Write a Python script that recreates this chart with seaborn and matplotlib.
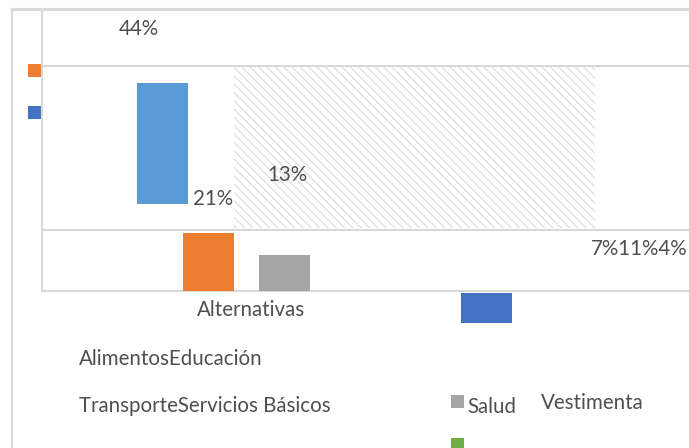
import numpy as np
import pandas as pd
import matplotlib
matplotlib.use("Agg")
import matplotlib.pyplot as plt
from matplotlib.patches import Rectangle
import seaborn as sns

# data
categorias = ["Alimentos", "Educación", "Transporte", "Servicios Básicos", "Salud", "Vestimenta"]
porcentajes = [44, 21, 13, 7, 11, 4]
eje_x = "Alternativas"

# bars that are visible: Alimentos, Educación, Transporte, Salud (drawn downward)
barras = ["Alimentos", "Educación", "Transporte", "Salud"]
signo = [1, 1, 1, -1]

# layout only (pixel centres of the bars, floating bases in % units)
bar_x = [162.5, 208.5, 284.5, 486.5]
bar_base = [31.5, 0.0, 0.0, -0.7]
bar_colors = ["#5B9BD5", "#ED7D31", "#A5A5A5", "#4472C4"]

sns.set_theme(style="white")
plt.rcParams["font.family"] = ["Lato", "DejaVu Sans"]
plt.rcParams["hatch.linewidth"] = 0.9

W, H = 689, 448
PX = 2.75  # pixels per percent point
fig = plt.figure(figsize=(W / 100, H / 100), dpi=100)

# data axes
ax = fig.add_axes([0, 0, 1, 1])
vals = [s * porcentajes[categorias.index(b)] for b, s in zip(barras, signo)]
df = pd.DataFrame({"pos": bar_x, "valor": vals})
sns.barplot(data=df, x="pos", y="valor", native_scale=True, orient="x",
            width=51 / 46, errorbar=None, bottom=bar_base, linewidth=0,
            color="#5B9BD5", ax=ax)
for p, c in zip(ax.patches, bar_colors):
    p.set_facecolor(c)
    p.set_zorder(3)
ax.set_xlim(0, W)
ax.set_ylim(-(H - 291) / PX, 291 / PX)
ax.axis("off")
ax.patch.set_alpha(0)

# overlay in pixel coordinates for frame, hatch, legend keys and text
ov = fig.add_axes([0, 0, 1, 1], zorder=-1)
ov.set_xlim(0, W)
ov.set_ylim(H, 0)
ov.axis("off")

grid = "#d9d9d9"
ov.plot([10, W], [9.5, 9.5], color=grid, lw=2.2, solid_capstyle="butt")
ov.plot([12, 12], [9, H], color=grid, lw=1.5, solid_capstyle="butt")
ov.plot([42, 42], [11, 292], color=grid, lw=1.5, solid_capstyle="butt")
for yy in [66, 230.5, 291.5]:
    ov.plot([42, W], [yy, yy], color=grid, lw=1.5, solid_capstyle="butt")

ov.add_patch(Rectangle((234, 67), 361, 161, facecolor="none", edgecolor="#dedede",
                       hatch="\\\\\\\\", linewidth=0))

for (x0, y0), c in zip([(28, 64), (28, 106), (451, 395), (451, 438)],
                       ["#ED7D31", "#4472C4", "#A5A5A5", "#70AD47"]):
    ov.add_patch(Rectangle((x0, y0), 13, 13, facecolor=c, edgecolor="none"))

tc = "#4f4f4f"
fs = 14.8
pct = [f"{v}%" for v in porcentajes]
ov.text(119, 35, pct[0], color=tc, fontsize=fs, va="baseline")
ov.text(193, 205, pct[1], color=tc, fontsize=fs, va="baseline")
ov.text(267, 181, pct[2], color=tc, fontsize=fs, va="baseline")
ov.text(687, 255, "".join(pct[3:]), color=tc, fontsize=fs, va="baseline", ha="right")
ov.text(197, 316, eje_x, color=tc, fontsize=fs, va="baseline")
ov.text(79, 365, categorias[0] + categorias[1], color=tc, fontsize=fs, va="baseline")
ov.text(79, 412, categorias[2] + categorias[3], color=tc, fontsize=fs, va="baseline")
ov.text(467, 413, categorias[4], color=tc, fontsize=fs, va="baseline")
ov.text(541, 409, categorias[5], color=tc, fontsize=fs, va="baseline")

fig.savefig("out.png", dpi=100)
